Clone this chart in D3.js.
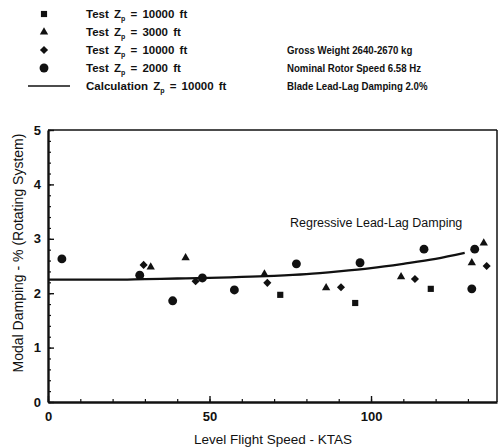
<!DOCTYPE html>
<html>
<head>
<meta charset="utf-8">
<script src="https://cdn.jsdelivr.net/npm/d3@7"></script>
<style>
html,body{margin:0;padding:0;background:#fff;}
svg{display:block;}
</style>
</head>
<body>
<svg id="chart" width="499" height="448"></svg>
<script>
// ---- data ----
const sq10000X = [71.9, 95.1, 118.5];
const sq10000Y = [1.97, 1.82, 2.08];

const tri3000X = [31.8, 42.6, 67.0, 86.1, 109.3, 131.2, 134.9];
const tri3000Y = [2.48, 2.65, 2.35, 2.10, 2.30, 2.56, 2.92];

const dia10000X = [29.6, 45.7, 67.9, 90.7, 113.6, 135.8];
const dia10000Y = [2.52, 2.22, 2.19, 2.11, 2.26, 2.50];

const circ2000X = [4.3, 28.4, 38.6, 47.8, 57.7, 76.9, 96.6, 116.4, 132.1, 131.2];
const circ2000Y = [2.63, 2.33, 1.86, 2.28, 2.06, 2.54, 2.56, 2.81, 2.81, 2.08];

const calcX = [0, 10, 20, 30, 40, 50, 60, 70, 80, 90, 100, 110, 120, 129];
const calcY = [2.25, 2.25, 2.25, 2.26, 2.27, 2.28, 2.30, 2.32, 2.35, 2.40, 2.46, 2.54, 2.63, 2.74];

const xMajorTicks = [0, 50, 100];
const yMajorTicks = [0, 1, 2, 3, 4, 5];

const legendLabels = [
  {pre: "Test Z", sub: "p", post: " = 10000 ft", type: "square"},
  {pre: "Test Z", sub: "p", post: " = 3000 ft", type: "triangle"},
  {pre: "Test Z", sub: "p", post: " = 10000 ft", type: "diamond"},
  {pre: "Test Z", sub: "p", post: " = 2000 ft", type: "circle"},
  {pre: "Calculation Z", sub: "p", post: " = 10000 ft", type: "line"}
];
const noteLabels = ["Gross Weight 2640-2670 kg", "Nominal Rotor Speed 6.58 Hz", "Blade Lead-Lag Damping 2.0%"];
const annotation = "Regressive Lead-Lag Damping";
const xTitle = "Level Flight Speed - KTAS";
const yTitle = "Modal Damping - % (Rotating System)";

(function () {
// ---- layout ----
const svg = d3.select("#chart");
const pL = 48, pR = 497, pT = 130, pB = 402;
const x = d3.scaleLinear().domain([0, 139]).range([pL, pR]);
const y = d3.scaleLinear().domain([0, 5]).range([pB, pT]);
const ink = "#111";
const font = "'Liberation Sans', Arial, sans-serif";

const symbols = {
  square: d3.symbol().type(d3.symbolSquare).size(38),
  triangle: d3.symbol().type(d3.symbolTriangle).size(30),
  diamond: d3.symbol().type(d3.symbolDiamond2 || d3.symbolDiamond).size(42),
  circle: d3.symbol().type(d3.symbolCircle).size(62)
};

// frame top/right
svg.append("line").attr("x1", pL).attr("x2", pR).attr("y1", pT).attr("y2", pT)
  .attr("stroke", ink).attr("stroke-width", 1.5);
svg.append("line").attr("x1", pR).attr("x2", pR).attr("y1", pT).attr("y2", pB)
  .attr("stroke", ink).attr("stroke-width", 1.5);

// minor ticks
svg.append("g").attr("transform", `translate(${pL},0)`)
  .call(d3.axisLeft(y).tickValues(d3.range(0, 5.001, 0.2)).tickSize(-3).tickFormat(""))
  .call(g => g.select(".domain").remove())
  .call(g => g.selectAll("line").attr("stroke", ink).attr("stroke-width", 1.2));
svg.append("g").attr("transform", `translate(0,${pB})`)
  .call(d3.axisBottom(x).tickValues(d3.range(0, 131, 10)).tickSize(-3).tickFormat(""))
  .call(g => g.select(".domain").remove())
  .call(g => g.selectAll("line").attr("stroke", ink).attr("stroke-width", 1.2));

// major axes
const yAx = svg.append("g").attr("transform", `translate(${pL},0)`)
  .call(d3.axisLeft(y).tickValues(yMajorTicks).tickSizeInner(-6).tickSizeOuter(0).tickPadding(7).tickFormat(d3.format("d")));
const xAx = svg.append("g").attr("transform", `translate(0,${pB})`)
  .call(d3.axisBottom(x).tickValues(xMajorTicks).tickSizeInner(-6).tickSizeOuter(0).tickPadding(10).tickFormat(d3.format("d")));
[yAx, xAx].forEach(g => {
  g.select(".domain").attr("stroke", ink).attr("stroke-width", 2.4);
  g.selectAll(".tick line").attr("stroke", ink).attr("stroke-width", 1.4);
  g.selectAll("text").attr("fill", ink).attr("font-family", font)
    .attr("font-size", 13).attr("font-weight", "bold");
});

// axis titles
svg.append("text").attr("x", 273).attr("y", 444).attr("text-anchor", "middle")
  .attr("font-family", font).attr("font-size", 13.5).attr("fill", ink)
  .text(xTitle);
svg.append("text").attr("transform", `translate(23,253) rotate(-90)`).attr("text-anchor", "middle")
  .attr("font-family", font).attr("font-size", 14).attr("fill", ink)
  .text(yTitle);

// calculation line
const calc = calcX.map((d, i) => [d, calcY[i]]);
svg.append("path").datum(calc)
  .attr("d", d3.line().x(d => x(d[0])).y(d => y(d[1])).curve(d3.curveMonotoneX))
  .attr("fill", "none").attr("stroke", ink).attr("stroke-width", 2.3);

// points
function drawPts(xs, ys, type) {
  svg.append("g").selectAll("path").data(xs.map((d, i) => [d, ys[i]])).join("path")
    .attr("d", symbols[type]())
    .attr("transform", d => `translate(${x(d[0])},${y(d[1])})`)
    .attr("fill", ink);
}
drawPts(sq10000X, sq10000Y, "square");
drawPts(tri3000X, tri3000Y, "triangle");
drawPts(dia10000X, dia10000Y, "diamond");
drawPts(circ2000X, circ2000Y, "circle");

// annotation
svg.append("text").attr("x", 290).attr("y", 227)
  .attr("font-family", font).attr("font-size", 12.5).attr("fill", ink)
  .text(annotation);

// legend
const rowY = i => 14 + i * 18;
legendLabels.forEach((d, i) => {
  const cy = rowY(i);
  if (d.type === "line") {
    svg.append("line").attr("x1", 28).attr("x2", 70).attr("y1", cy).attr("y2", cy)
      .attr("stroke", ink).attr("stroke-width", 1.5);
  } else {
    svg.append("path").attr("d", symbols[d.type]())
      .attr("transform", `translate(44,${cy})`).attr("fill", ink);
  }
  const t = svg.append("text").attr("x", 86).attr("y", cy + 4)
    .attr("font-family", font).attr("font-size", 11.5).attr("font-weight", "bold")
    .attr("word-spacing", 2).attr("fill", ink);
  t.append("tspan").text(d.pre);
  t.append("tspan").attr("dy", 3).attr("font-size", 7).text(d.sub);
  t.append("tspan").attr("dy", -3).text(d.post);
});
noteLabels.forEach((s, i) => {
  svg.append("text").attr("transform", `translate(287,${rowY(i + 2) + 4}) scale(0.84,1)`)
    .attr("font-family", font).attr("font-size", 11.5).attr("font-weight", "bold").attr("fill", ink)
    .text(s);
});
})();
</script>
</body>
</html>
